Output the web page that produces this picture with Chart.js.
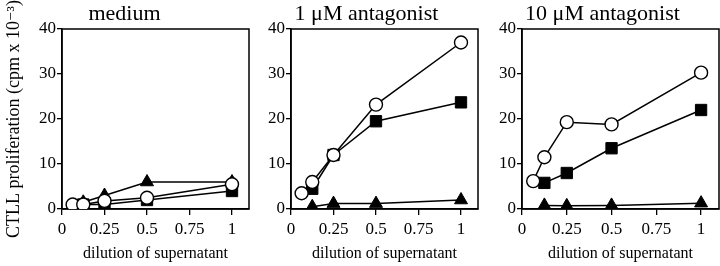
<!DOCTYPE html>
<html><head><meta charset="utf-8">
<script src="https://cdn.jsdelivr.net/npm/chart.js@4/dist/chart.umd.min.js"></script>
<style>
html,body{margin:0;padding:0;background:#fff;}
#wrap{position:relative;width:720px;height:266px;overflow:hidden;}
.p{position:absolute;top:0;height:266px;}
</style></head><body>
<div id="wrap">
<div class="p" style="left:0;width:252px"><canvas id="c1"></canvas></div>
<div class="p" style="left:255px;width:225px"><canvas id="c2"></canvas></div>
<div class="p" style="left:486px;width:234px"><canvas id="c3"></canvas></div>
</div>
<script>
const titles = ["medium", "1 \u03bcM antagonist", "10 \u03bcM antagonist"];
const xTicks = [0, 0.25, 0.5, 0.75, 1];
const yTicks = [0, 10, 20, 30, 40];
const dil5 = [0.0625, 0.125, 0.25, 0.5, 1];
const dil4 = [0.125, 0.25, 0.5, 1];
// medium
const medCircle = [1, 1, 1.8, 2.5, 5.5];
const medSquare = [1, 1, 2, 4];
const medTriangle = [1.5, 3, 6, 6];
// 1 uM antagonist
const a1Circle = [3.5, 6, 12, 23.2, 37];
const a1Square = [4.5, 12, 19.5, 23.7];
const a1Triangle = [0.5, 1.2, 1.2, 2];
// 10 uM antagonist
const a10Circle = [6.2, 11.5, 19.3, 18.8, 30.3];
const a10Square = [5.8, 8, 13.5, 22];
const a10Triangle = [0.8, 0.7, 0.8, 1.3];

const SERIF = "'Liberation Serif', 'DejaVu Serif', serif";
const pts = (xs, ys) => xs.map((x, i) => ({x: x, y: ys[i]}));

const frame = {
  id: 'frame',
  beforeDatasetsDraw(chart) {
    const a = chart.chartArea, ctx = chart.ctx;
    ctx.save(); ctx.strokeStyle = '#000'; ctx.lineWidth = 1.5;
    ctx.strokeRect(a.left, a.top, a.right - a.left, a.bottom - a.top);
    ctx.restore();
  }
};

function make(id, title, circ, sq, tri, yWidth, padRight, showYTitle) {
  new Chart(document.getElementById(id), {
    type: 'line',
    data: {
      datasets: [
        {data: pts(dil5, circ), pointStyle: 'circle', pointRadius: 6.5, pointBackgroundColor: '#fff', pointBorderColor: '#000', pointBorderWidth: 1.4, borderColor: '#000', borderWidth: 1.5, fill: false, tension: 0},
        {data: pts(dil4, sq), pointStyle: 'rect', pointRadius: 8, pointBackgroundColor: '#000', pointBorderColor: '#000', pointBorderWidth: 1, borderColor: '#000', borderWidth: 1.5, fill: false, tension: 0},
        {data: pts(dil4, tri), pointStyle: 'triangle', pointRadius: 7.5, pointBackgroundColor: '#000', pointBorderColor: '#000', pointBorderWidth: 1, borderColor: '#000', borderWidth: 1.5, fill: false, tension: 0}
      ]
    },
    options: {
      responsive: true, maintainAspectRatio: false, animation: false,
      layout: {autoPadding: false, padding: {left: 0, right: padRight, top: 0, bottom: 0}},
      plugins: {
        legend: {display: false}, tooltip: {enabled: false},
        title: {display: true, text: title, color: '#000', font: {family: SERIF, size: 22, weight: 'normal', lineHeight: 1}, padding: {top: 3, bottom: 4}}
      },
      scales: {
        x: {
          type: 'linear', min: 0, max: 1.1,
          afterBuildTicks: s => { s.ticks = xTicks.map(v => ({value: v})); },
          afterFit: s => { s.height = 57; },
          ticks: {color: '#000', font: {family: SERIF, size: 17}, padding: 4, maxRotation: 0, autoSkip: false, callback: v => String(v)},
          grid: {display: true, drawOnChartArea: false, drawTicks: true, tickLength: 6, color: '#000', lineWidth: 1.3},
          border: {display: true, color: '#000', width: 1.5},
          title: {display: true, text: 'dilution of supernatant', color: '#000', font: {family: SERIF, size: 16}, padding: {top: 0, bottom: 3}}
        },
        y: {
          type: 'linear', min: 0, max: 40,
          afterBuildTicks: s => { s.ticks = yTicks.map(v => ({value: v})); },
          afterFit: s => { s.width = yWidth; },
          ticks: {color: '#000', font: {family: SERIF, size: 17}, padding: 1},
          grid: {display: true, drawOnChartArea: false, drawTicks: true, tickLength: 5, color: '#000', lineWidth: 1.3},
          border: {display: true, color: '#000', width: 1.5},
          title: {display: showYTitle, text: 'CTLL proliferation (cpm x 10\u207b\u00b3)', color: '#000', font: {family: SERIF, size: 18}, padding: {top: 3, bottom: 0}}
        }
      }
    },
    plugins: [frame]
  });
}
make('c1', titles[0], medCircle, medSquare, medTriangle, 62, 3, true);
make('c2', titles[1], a1Circle, a1Square, a1Triangle, 36, 2, false);
make('c3', titles[2], a10Circle, a10Square, a10Triangle, 36, 1, false);
</script>
</body></html>
